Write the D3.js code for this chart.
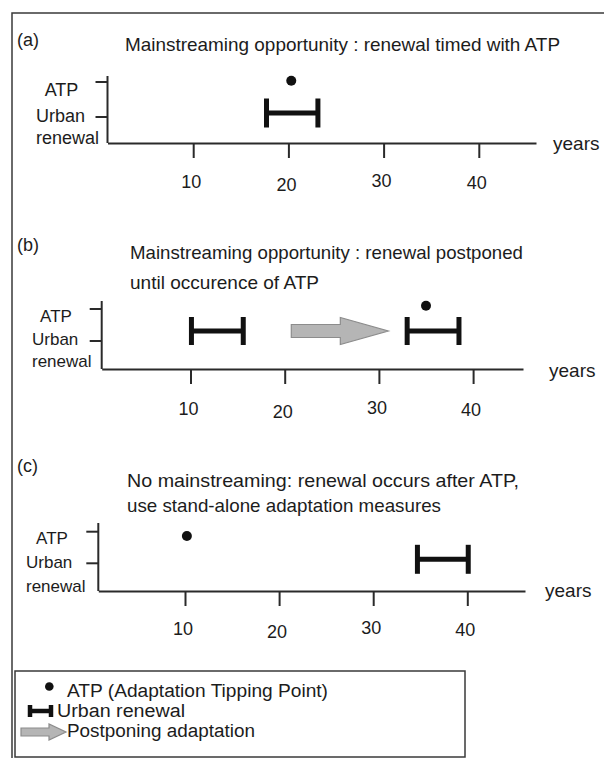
<!DOCTYPE html>
<html>
<head>
<meta charset="utf-8">
<script src="https://cdn.jsdelivr.net/npm/d3@7"></script>
<style>
  html, body { margin: 0; padding: 0; background: #fff; }
  svg { display: block; }
  text { font-family: "Liberation Sans", Arial, sans-serif; fill: #1c1c1c; }
</style>
</head>
<body>
<svg id="chart" width="604" height="758"></svg>
<script>
// ---------------- data ----------------
const panelLabels = ["(a)", "(b)", "(c)"];
const titleLines = [
  ["Mainstreaming opportunity : renewal timed with ATP"],
  ["Mainstreaming opportunity : renewal postponed", "until occurence of ATP"],
  ["No mainstreaming: renewal occurs after ATP,", "use stand-alone adaptation measures"]
];
const yCategories = ["ATP", "Urban renewal"];
const xTickValues = [10, 20, 30, 40];
const xAxisTitle = "years";
const atpYear = [20.3, 35.0, 10.2];
const renewalStart = [[17.7], [10.1, 33.0], [34.7]];
const renewalEnd = [[23.1], [15.6, 38.5], [40.1]];
const postponeFrom = [null, 20.7, null];
const postponeTo = [null, 31.0, null];
const legendLabels = ["ATP (Adaptation Tipping Point)", "Urban renewal", "Postponing adaptation"];

// ---------------- layout ----------------
const layout = [
  { lab: [17, 46], tx: 125, ty: [51], tlen: [435],
    x0: 98, k: 9.52, axisY: 143, axisX: [107.5, 536], yTop: 76, yTicks: [82, 117],
    tickLabelBase: 187.5, years: [553, 150], dotDy: -1.3, barDy: -4, capH: 29,
    ylab: { atp: [61.5, 96], urban: [36, 122], renewal: [36, 144] }, fs: 18 },
  { lab: [17, 251], tx: 130, ty: [258.5, 288.5], tlen: [393, 189],
    x0: 96.3, k: 9.42, axisY: 369, axisX: [101.7, 523], yTop: 301, yTicks: [309, 341],
    tickLabelBase: 414.5, years: [549, 377], dotDy: -3.3, barDy: -10, capH: 28,
    ylab: { atp: [56, 321.7], urban: [32, 345], renewal: [32, 366.7] }, fs: 17 },
  { lab: [17, 472], tx: 127, ty: [487, 512], tlen: [392, 314],
    x0: 90.9, k: 9.41, axisY: 591, axisX: [98.3, 525], yTop: 523, yTicks: [531.7, 563.3],
    tickLabelBase: 634.5, years: [545, 597], dotDy: 4.3, barDy: -4, capH: 29,
    ylab: { atp: [52, 543.5], urban: [26, 568], renewal: [26, 592] }, fs: 17 }
];
const tickLabelDy = [0, 3, -1, 1];
const ink = "#111";
const axisInk = "#2a2a2a";

const svg = d3.select("#chart");

// outer frame (open to the right/bottom edges)
svg.append("rect").attr("x", 12).attr("y", 13).attr("width", 620).attr("height", 780)
  .attr("fill", "none").attr("stroke", "#3a3a3a").attr("stroke-width", 1.5);

function renewalBar(g, x1, x2, y, capH, sw) {
  g.append("line").attr("x1", x1).attr("x2", x2).attr("y1", y).attr("y2", y)
    .attr("stroke", ink).attr("stroke-width", sw);
  [x1, x2].forEach(xx => g.append("line").attr("x1", xx).attr("x2", xx)
    .attr("y1", y - capH / 2).attr("y2", y + capH / 2)
    .attr("stroke", ink).attr("stroke-width", sw));
}
function arrowPath(xa, xb, headLen, cy, bodyH, headH) {
  const xh = xb - headLen;
  return `M${xa},${cy - bodyH} L${xh},${cy - bodyH} L${xh},${cy - headH} L${xb},${cy} ` +
         `L${xh},${cy + headH} L${xh},${cy + bodyH} L${xa},${cy + bodyH} Z`;
}

panelLabels.forEach((pl, i) => {
  const L = layout[i];
  const g = svg.append("g");

  // x scale: year -> pixel
  const vStart = (L.axisX[0] - L.x0) / L.k, vEnd = (L.axisX[1] - L.x0) / L.k;
  const x = d3.scaleLinear().domain([vStart, vEnd]).range(L.axisX);
  const y = d3.scaleOrdinal().domain(yCategories).range(L.yTicks);

  // panel label and title
  g.append("text").attr("x", L.lab[0]).attr("y", L.lab[1]).attr("font-size", 18).text(pl);
  titleLines[i].forEach((t, j) => {
    g.append("text").attr("x", L.tx).attr("y", L.ty[j]).attr("font-size", 19)
      .attr("textLength", L.tlen[j]).attr("lengthAdjust", "spacingAndGlyphs").text(t);
  });

  // x axis
  const xAxis = d3.axisBottom(x).tickValues(xTickValues).tickSize(15).tickSizeOuter(0).tickFormat("");
  const ax = g.append("g").attr("transform", `translate(0,${L.axisY})`).call(xAxis);
  ax.select(".domain").attr("stroke", axisInk).attr("stroke-width", 2);
  ax.selectAll(".tick line").attr("stroke", axisInk).attr("stroke-width", 2);
  g.selectAll(".xlab").data(xTickValues).enter().append("text")
    .attr("x", d => x(d) - 2).attr("y", (d, j) => L.tickLabelBase + tickLabelDy[j])
    .attr("text-anchor", "middle").attr("font-size", 18).text(d => d);
  g.append("text").attr("x", L.years[0]).attr("y", L.years[1]).attr("font-size", 19).text(xAxisTitle);

  // y axis
  g.append("line").attr("x1", L.axisX[0]).attr("x2", L.axisX[0]).attr("y1", L.yTop).attr("y2", L.axisY)
    .attr("stroke", axisInk).attr("stroke-width", 2);
  g.selectAll(".ytick").data(yCategories).enter().append("line")
    .attr("x1", L.axisX[0] - 12).attr("x2", L.axisX[0]).attr("y1", d => y(d)).attr("y2", d => y(d))
    .attr("stroke", axisInk).attr("stroke-width", 2);
  g.append("text").attr("x", L.ylab.atp[0]).attr("y", L.ylab.atp[1]).attr("text-anchor", "middle")
    .attr("font-size", L.fs).text(yCategories[0]);
  const parts = yCategories[1].split(" ");
  g.append("text").attr("x", L.ylab.urban[0]).attr("y", L.ylab.urban[1]).attr("font-size", L.fs).text(parts[0]);
  g.append("text").attr("x", L.ylab.renewal[0]).attr("y", L.ylab.renewal[1]).attr("font-size", L.fs).text(parts[1]);

  // postponing arrow
  if (postponeFrom[i] !== null) {
    g.append("path")
      .attr("d", arrowPath(x(postponeFrom[i]), x(postponeTo[i]), 48, y(yCategories[1]) + L.barDy, 6.5, 13.5))
      .attr("fill", "#b5b5b5").attr("stroke", "#8c8c8c").attr("stroke-width", 1.2);
  }
  // urban renewal bars
  renewalStart[i].forEach((s, j) => {
    renewalBar(g, x(s), x(renewalEnd[i][j]), y(yCategories[1]) + L.barDy, L.capH, 5);
  });
  // ATP dot
  g.append("circle").attr("cx", x(atpYear[i])).attr("cy", y(yCategories[0]) + L.dotDy).attr("r", 5)
    .attr("fill", ink);
});

// ---------------- legend ----------------
const lg = svg.append("g");
lg.append("rect").attr("x", 15).attr("y", 671).attr("width", 450).attr("height", 86)
  .attr("fill", "#fff").attr("stroke", "#3a3a3a").attr("stroke-width", 1.5);
lg.append("circle").attr("cx", 49.3).attr("cy", 686.5).attr("r", 4.3).attr("fill", ink);
renewalBar(lg, 30, 51, 711, 12, 4.5);
lg.append("path").attr("d", arrowPath(21, 66, 17, 732, 4, 8))
  .attr("fill", "#b5b5b5").attr("stroke", "#8c8c8c").attr("stroke-width", 1.2);
const legendX = [67, 57, 67];
const legendBase = [696.5, 717, 736.5];
const legendLen = [261, 128, 188];
legendLabels.forEach((t, j) => {
  lg.append("text").attr("x", legendX[j]).attr("y", legendBase[j]).attr("font-size", 18)
    .attr("textLength", legendLen[j]).attr("lengthAdjust", "spacingAndGlyphs").text(t);
});
</script>
</body>
</html>
